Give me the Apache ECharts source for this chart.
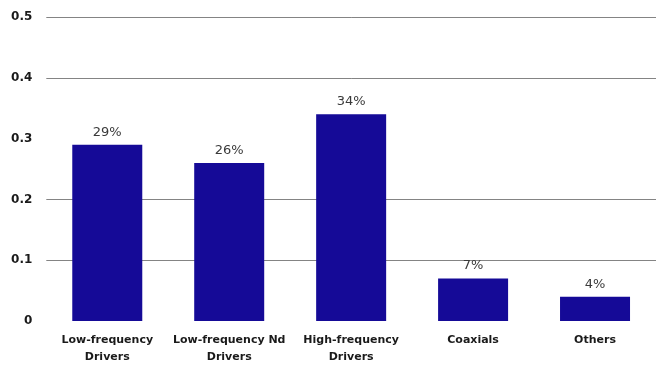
<!DOCTYPE html>
<html>
<head>
<meta charset="utf-8">
<script src="https://cdn.jsdelivr.net/npm/echarts@6/dist/echarts.min.js"></script>
<style>
html,body{margin:0;padding:0;background:#fff;}
#chart{width:656px;height:367px;}
</style>
</head>
<body>
<div id="chart"></div>
<script>
var categories = ["Low-frequency\nDrivers", "Low-frequency Nd\nDrivers", "High-frequency\nDrivers", "Coaxials", "Others"];
var shares = [0.29, 0.26, 0.34, 0.07, 0.04];
var yTicks = [0, 0.1, 0.2, 0.3, 0.4, 0.5];

var chart = echarts.init(document.getElementById('chart'));
chart.setOption({
  animation: false,
  backgroundColor: '#ffffff',
  grid: { left: 46.3, top: 17, width: 617.5, bottom: 46, containLabel: false },
  xAxis: {
    type: 'category',
    data: categories,
    axisLine: { show: false },
    axisTick: { show: false },
    axisLabel: {
      interval: 0,
      margin: 11,
      fontFamily: 'DejaVu Sans',
      fontWeight: 'bold',
      fontSize: 11,
      lineHeight: 17,
      color: '#1a1a1a'
    }
  },
  yAxis: {
    type: 'value',
    min: yTicks[0],
    max: yTicks[yTicks.length - 1],
    interval: 0.1,
    axisLine: { show: false },
    axisTick: { show: false },
    splitLine: {
      show: true,
      lineStyle: {
        color: ['rgba(0,0,0,0)', '#848484', '#848484', 'rgba(0,0,0,0)', '#848484', '#848484'],
        width: 1
      }
    },
    axisLabel: {
      margin: 14,
      fontFamily: 'DejaVu Sans',
      fontWeight: 'bold',
      fontSize: 12,
      color: '#1a1a1a',
      formatter: function (v) { return String(Math.round(v * 10) / 10); }
    }
  },
  series: [{
    type: 'bar',
    data: shares,
    barWidth: 70,
    itemStyle: { color: '#150A97' },
    label: {
      show: true,
      position: 'top',
      distance: 6,
      fontFamily: 'DejaVu Sans',
      fontSize: 13,
      color: '#3a3a3a',
      formatter: function (p) { return Math.round(p.value * 100) + '%'; }
    }
  }]
});
</script>
</body>
</html>
